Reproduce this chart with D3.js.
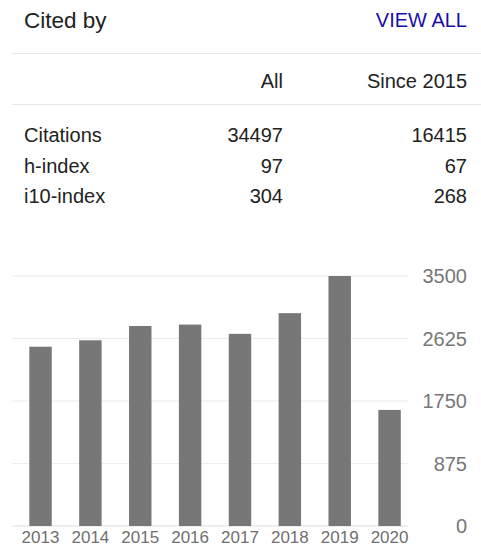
<!DOCTYPE html>
<html>
<head>
<meta charset="utf-8">
<script src="https://cdn.jsdelivr.net/npm/d3@7"></script>
<style>
  body { margin: 0; background: #fff; }
  svg { display: block; font-family: "Liberation Sans", Arial, sans-serif; }
</style>
</head>
<body>
<div id="chart"></div>
<script>
var years = ["2013", "2014", "2015", "2016", "2017", "2018", "2019", "2020"];
var citations = [2510, 2600, 2800, 2820, 2690, 2980, 3500, 1625];
var yTicks = [0, 875, 1750, 2625, 3500];

var metrics = ["Citations", "h-index", "i10-index"];
var columns = ["All", "Since 2015"];
var allValues = [34497, 97, 304];
var sinceValues = [16415, 67, 268];

var w = 481,
    h = 548;

var svg = d3.select("#chart").append("svg")
    .attr("width", w)
    .attr("height", h);

// header
svg.append("text")
    .attr("x", 24)
    .attr("y", 27.5)
    .attr("font-size", 22.5)
    .attr("fill", "#222")
    .text("Cited by");

svg.append("text")
    .attr("x", 467)
    .attr("y", 26.5)
    .attr("text-anchor", "end")
    .attr("font-size", 20)
    .attr("fill", "#1a0dab")
    .text("VIEW ALL");

svg.selectAll("line.rule")
    .data([53.5, 104.5])
  .enter().append("line")
    .attr("class", "rule")
    .attr("x1", 12)
    .attr("x2", w)
    .attr("y1", function(d) { return d; })
    .attr("y2", function(d) { return d; })
    .attr("stroke", "#e6e6e6")
    .attr("stroke-width", 1.2);

// table
var colX = [283, 467];

svg.selectAll("text.colhead")
    .data(columns)
  .enter().append("text")
    .attr("class", "colhead")
    .attr("x", function(d, i) { return colX[i]; })
    .attr("y", 87.5)
    .attr("text-anchor", "end")
    .attr("font-size", 20)
    .attr("fill", "#222")
    .text(function(d) { return d; });

var rowY = d3.scalePoint()
    .domain(metrics)
    .range([141.7, 203.3]);

var rows = svg.selectAll("g.row")
    .data(metrics)
  .enter().append("g")
    .attr("class", "row")
    .attr("transform", function(d) { return "translate(0," + rowY(d) + ")"; })
    .attr("font-size", 20)
    .attr("fill", "#222");

rows.append("text")
    .attr("x", 24)
    .text(function(d) { return d; });

rows.append("text")
    .attr("x", colX[0])
    .attr("text-anchor", "end")
    .text(function(d, i) { return allValues[i]; });

rows.append("text")
    .attr("x", colX[1])
    .attr("text-anchor", "end")
    .text(function(d, i) { return sinceValues[i]; });

// bar chart
var x = d3.scaleBand()
    .domain(years)
    .range([15.6, 414.5])
    .paddingInner(0.55)
    .paddingOuter(0.275);

var y = d3.scaleLinear()
    .domain([0, 3500])
    .range([526, 276]);

svg.selectAll("line.grid")
    .data(yTicks)
  .enter().append("line")
    .attr("class", "grid")
    .attr("x1", 12)
    .attr("x2", 408)
    .attr("y1", function(d) { return y(d); })
    .attr("y2", function(d) { return y(d); })
    .attr("stroke", function(d) { return d === 0 ? "#dddddd" : "#ececec"; })
    .attr("stroke-width", 1.2);

svg.selectAll("text.ytick")
    .data(yTicks)
  .enter().append("text")
    .attr("class", "ytick")
    .attr("x", 467)
    .attr("y", function(d) { return y(d); })
    .attr("dy", "0.36em")
    .attr("text-anchor", "end")
    .attr("font-size", 20)
    .attr("fill", "#777")
    .text(function(d) { return d; });

svg.selectAll("rect.bar")
    .data(citations)
  .enter().append("rect")
    .attr("class", "bar")
    .attr("x", function(d, i) { return x(years[i]); })
    .attr("y", function(d) { return y(d); })
    .attr("width", x.bandwidth())
    .attr("height", function(d) { return y(0) - y(d); })
    .attr("fill", "#777777");

svg.selectAll("text.year")
    .data(years)
  .enter().append("text")
    .attr("class", "year")
    .attr("x", function(d) { return x(d) + x.bandwidth() / 2; })
    .attr("y", 543)
    .attr("text-anchor", "middle")
    .attr("font-size", 17)
    .attr("fill", "#6f6f6f")
    .text(function(d) { return d; });
</script>
</body>
</html>
